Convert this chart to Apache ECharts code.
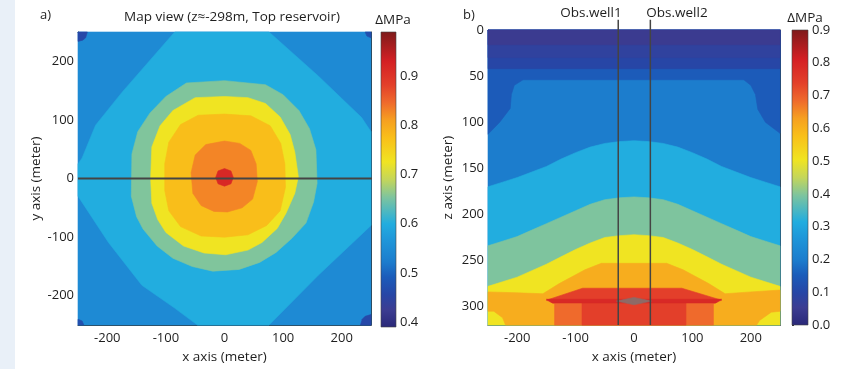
<!DOCTYPE html>
<html><head><meta charset="utf-8">
<script src="https://cdn.jsdelivr.net/npm/echarts@6/dist/echarts.min.js"></script>
<style>html,body{margin:0;padding:0;background:#fff}#c{width:850px;height:369px}</style>
</head><body><div id="c"></div>
<script>
// ---------- DATA ----------
// Panel a: map view, contour bands (x, y in metres), painted outer -> inner
const mapLevels = [0.546, 0.600, 0.655, 0.726, 0.776, 0.828, 0.918, 0.46, 0.46, 0.47, 0.47];
const mapBackground = [[-250,-250],[250,-250],[250,250],[-250,250]];
const mapDiamond = [[-85,250],[76,250],[160,175],[234,104],[250,80],[250,-80],[160,-165],[76,-250],[-46,-250],[-85,-221],[-141,-182],[-198,-109],[-250,-30],[-250,25],[-243,35],[-220,91],[-175,147]];
const mapGreen = [[0,167],[-65,163],[-100,140],[-127,112],[-148,80],[-158,42],[-159,-30],[-150,-65],[-139,-86],[-115,-115],[-88,-136],[-55,-150],[-20,-158],[25,-155],[60,-143],[88,-126],[115,-102],[139,-76],[152,-40],[158,-8],[156,49],[145,85],[127,116],[100,143],[70,160]];
const mapYellow = [[0,140],[-50,138],[-88,116],[-110,90],[-124,54],[-126,0],[-124,-42],[-114,-70],[-100,-92],[-70,-115],[-35,-127],[2,-130],[40,-122],[64,-109],[90,-85],[105,-59],[120,-25],[126,3],[120,45],[112,75],[95,105],[70,128],[40,138]];
const mapGold = [[0,110],[-45,108],[-75,92],[-95,62],[-102,25],[-102,-20],[-95,-55],[-75,-82],[-40,-98],[0,-100],[40,-96],[72,-80],[95,-55],[104,-15],[103,25],[96,60],[78,90],[45,107]];
const mapOrange = [[0,64],[-32,58],[-50,40],[-57,10],[-54,-25],[-40,-46],[-18,-56],[5,-57],[30,-50],[48,-35],[56,-5],[54,25],[45,48],[26,60]];
const mapRed = [[0,17],[-11,13],[-15,2],[-11,-9],[0,-13],[11,-9],[15,2],[11,13]];
const mapCornerTL = [[-250,250],[-234,250],[-237,240],[-242,236],[-250,234]];
const mapCornerTR = [[250,250],[240,250],[243,243],[250,240]];
const mapCornerBL = [[-250,-250],[-240,-250],[-243,-243],[-250,-240]];
const mapCornerBR = [[250,-250],[232,-250],[235,-240],[240,-235],[250,-232]];
const trench = [[-250,0],[253,0]];

// Panel b: vertical section (x, depth z in metres)
const secLevels = [0.200, 0.150, 0.100, 0.080, 0.050, 0.315, 0.396, 0.504, 0.608, 0.684, 0.740, 0.740, 0.790, 0.70];
const secBackground = [[-250,0],[250,0],[250,320],[-250,320]];
const secBand015 = [[-250,0],[250,0],[250,112],[225,100],[212,86],[208,70],[200,60],[188,54],[-190,54],[-205,60],[-210,70],[-212,85],[-230,100],[-250,113]];
const secBand010 = [[-250,0],[250,0],[250,42],[-250,42]];
const secBand008 = [[-250,0],[250,0],[250,30],[-250,30]];
const secBand005 = [[-250,0],[250,0],[250,16],[-250,16]];
const secCyan = [[-250,170],[-225,165],[-200,160],[-175,154],[-150,148],[-125,140],[-100,133],[-75,127],[-50,123],[-25,121],[0,120],[25,121],[50,123],[75,127],[100,133],[125,140],[150,148],[175,154],[200,160],[225,165],[250,170],[250,320],[-250,320]];
const secGreen = [[-250,234],[-225,229],[-200,224],[-175,217],[-150,210],[-125,203],[-100,196],[-75,189],[-50,184],[-25,182],[0,181],[25,182],[50,184],[75,189],[100,196],[125,203],[150,210],[175,217],[200,224],[225,229],[250,234],[250,320],[-250,320]];
const secYellow = [[-250,278],[-225,273],[-200,268],[-175,261],[-150,254],[-125,246],[-100,238],[-75,231],[-50,225],[-25,223],[0,222],[25,223],[50,225],[75,231],[100,238],[125,246],[150,254],[175,261],[200,268],[225,273],[250,278],[250,320],[-250,320]];
const secGold = [[-250,284],[-200,285],[-156,286],[-128,275],[-84,260],[-56,253],[56,253],[84,260],[128,275],[156,286],[200,284],[250,282],[250,305],[235,306],[215,315],[210,320],[-220,320],[-225,312],[-240,305],[-250,305]];
const secOrangeRed = [[-150,293],[150,293],[136,297],[136,320],[-136,320],[-136,297]];
const secRedTop = [[-88,280],[82,280],[150,293],[-150,293]];
const secRedLow = [[-89,296],[89,296],[89,320],[-89,320]];
const secBrim = [[-150,292],[150,292],[140,296],[-140,296]];
const secSource = [[-30,294],[0,290],[30,294],[0,298]];
const well1 = [[-27,-11],[-27,320]];
const well2 = [[28,-11],[28,320]];

const mapTicksX = [-200,-100,0,100,200];
const mapTicksY = [-200,-100,0,100,200];
const secTicksZ = [0,50,100,150,200,250,300];
const cbATicks = [0.4,0.5,0.6,0.7,0.8,0.9];
const cbARange = [0.39, 0.99];
const cbBRange = [0, 0.9];

// ---------- STYLE ----------
const STOPS = [[0.00,'#2a2878'],[0.06,'#3c3d92'],[0.11,'#2746a6'],[0.17,'#1b5cba'],[0.22,'#1c7ccd'],[0.30,'#1f98da'],[0.35,'#22addf'],[0.44,'#7ec49e'],[0.50,'#c4d65a'],[0.56,'#f0e422'],[0.64,'#f9c01a'],[0.70,'#f6a020'],[0.76,'#ef6a2c'],[0.82,'#e3402a'],[0.90,'#d42024'],[1.00,'#7e1b1b']];
function hex(c){return [parseInt(c.slice(1,3),16),parseInt(c.slice(3,5),16),parseInt(c.slice(5,7),16)];}
function cmap(t){
  t=Math.max(0,Math.min(1,t));
  for(let i=1;i<STOPS.length;i++){
    if(t<=STOPS[i][0]){
      const a=STOPS[i-1],b=STOPS[i],f=(t-a[0])/(b[0]-a[0]);
      const ca=hex(a[1]),cb=hex(b[1]);
      return 'rgb('+ca.map((v,k)=>Math.round(v+(cb[k]-v)*f)).join(',')+')';
    }
  }
  return STOPS[STOPS.length-1][1];
}
const FONT='Open Sans';
const TXT='#1e1e1e';
const mapPolys=[mapBackground,mapDiamond,mapGreen,mapYellow,mapGold,mapOrange,mapRed,mapCornerTL,mapCornerBR,mapCornerTR,mapCornerBL];
const secPolys=[secBackground,secBand015,secBand010,secBand008,secBand005,secCyan,secGreen,secYellow,secGold,secOrangeRed,secRedTop,secRedLow,secBrim,secSource];
const secColorsOverride={13:'#8e6a66'};

function polySeries(polys, levels, range, xi, yi, override){
  return {type:'custom',xAxisIndex:xi,yAxisIndex:yi,silent:true,
    data: levels.map((v,i)=>[i,v]),
    encode:{x:-1,y:-1},
    renderItem:(p,api)=>{
      const i=p.dataIndex, pts=polys[i].map(q=>api.coord(q));
      const col=(override&&override[i])||cmap((levels[i]-range[0])/(range[1]-range[0]));
      return {type:'polygon',shape:{points:pts},style:{fill:col,stroke:col,lineWidth:0.6}};
    }};
}
function cbSeries(range, xi, yi){
  return {type:'custom',xAxisIndex:xi,yAxisIndex:yi,silent:true,data:[[0,range[0]]],encode:{x:-1,y:-1},
    renderItem:(p,api)=>{
      const a=api.coord([0,range[1]]),b=api.coord([1,range[0]]);
      return {type:'rect',shape:{x:a[0],y:a[1],width:b[0]-a[0],height:b[1]-a[1]},
        style:{fill:new echarts.graphic.LinearGradient(0,1,0,0,STOPS.map(s=>({offset:s[0],color:s[1]}))),stroke:'#444',lineWidth:0.6}};
    }};
}
const lab={fontFamily:FONT,fontSize:13,color:TXT};
const gridA={left:78,top:32,width:293,height:295};
const cbA={left:381,top:32,width:15,height:295};
const gridB={left:488,top:30,width:292,height:297};
const cbB={left:792,top:30,width:16,height:295};
const frameAxis=(g,pos,extra)=>Object.assign({gridIndex:g,position:pos,type:'value',axisLine:{show:true,onZero:false,lineStyle:{color:'#333',width:1}},axisTick:{show:false},axisLabel:{show:false},splitLine:{show:false}},extra||{});

const option={
  backgroundColor:'#ffffff',
  animation:false,
  grid:[gridA,cbA,gridB,cbB],
  xAxis:[
    {gridIndex:0,type:'value',min:-250,max:250,position:'bottom',
      axisLine:{show:true,onZero:false,lineStyle:{color:'#333'}},
      axisTick:{show:true,inside:true,length:3,customValues:mapTicksX,lineStyle:{color:'#333'}},
      axisLabel:Object.assign({customValues:mapTicksX,margin:7},lab),splitLine:{show:false},
      name:'x axis (meter)',nameLocation:'middle',nameGap:23,nameTextStyle:{fontFamily:FONT,fontSize:13.5,color:TXT}},
    frameAxis(0,'top',{min:-250,max:250}),
    {gridIndex:1,type:'value',min:0,max:1,show:false},
    {gridIndex:2,type:'value',min:-250,max:250,position:'bottom',
      axisLine:{show:true,onZero:false,lineStyle:{color:'#333'}},
      axisTick:{show:true,inside:true,length:3,customValues:mapTicksX,lineStyle:{color:'#333'}},
      axisLabel:Object.assign({customValues:mapTicksX,margin:7},lab),splitLine:{show:false},
      name:'x axis (meter)',nameLocation:'middle',nameGap:23,nameTextStyle:{fontFamily:FONT,fontSize:13.5,color:TXT}},
    frameAxis(2,'top',{min:-250,max:250}),
    {gridIndex:3,type:'value',min:0,max:1,show:false}
  ],
  yAxis:[
    {gridIndex:0,type:'value',min:-250,max:250,position:'left',
      axisLine:{show:true,onZero:false,lineStyle:{color:'#333'}},
      axisTick:{show:true,inside:true,length:3,customValues:mapTicksY,lineStyle:{color:'#333'}},
      axisLabel:Object.assign({customValues:mapTicksY,margin:4},lab),splitLine:{show:false},
      name:'y axis (meter)',nameLocation:'middle',nameGap:33,nameTextStyle:{fontFamily:FONT,fontSize:13.5,color:TXT}},
    frameAxis(0,'right',{min:-250,max:250}),
    {gridIndex:1,type:'value',min:cbARange[0],max:cbARange[1],position:'right',
      axisLine:{show:false},axisTick:{show:true,length:2,customValues:cbATicks,lineStyle:{color:'#333'}},
      axisLabel:Object.assign({customValues:cbATicks,margin:4,formatter:v=>v.toFixed(1)},lab),splitLine:{show:false}},
    {gridIndex:2,type:'value',min:0,max:320,inverse:true,position:'left',
      axisLine:{show:true,onZero:false,lineStyle:{color:'#333'}},
      axisTick:{show:true,inside:true,length:3,customValues:secTicksZ,lineStyle:{color:'#333'}},
      axisLabel:Object.assign({customValues:secTicksZ,margin:4},lab),splitLine:{show:false},
      name:'z axis (meter)',nameLocation:'middle',nameGap:33,nameTextStyle:{fontFamily:FONT,fontSize:13.5,color:TXT}},
    frameAxis(2,'right',{min:0,max:320,inverse:true}),
    {gridIndex:3,type:'value',min:cbBRange[0],max:cbBRange[1],interval:0.1,position:'right',
      axisLine:{show:false},axisTick:{show:true,length:2,lineStyle:{color:'#333'}},
      axisLabel:Object.assign({margin:4,formatter:v=>v.toFixed(1)},lab),splitLine:{show:false}}
  ],
  series:[
    polySeries(mapPolys,mapLevels,cbARange,0,0),
    {type:'line',xAxisIndex:0,yAxisIndex:0,data:trench,symbol:'none',clip:false,silent:true,lineStyle:{color:'#444',width:2},z:5},
    cbSeries(cbARange,2,2),
    polySeries(secPolys,secLevels,cbBRange,3,3,secColorsOverride),
    {type:'line',xAxisIndex:3,yAxisIndex:3,data:well1,symbol:'none',clip:false,silent:true,lineStyle:{color:'#444',width:1.5},z:5},
    {type:'line',xAxisIndex:3,yAxisIndex:3,data:well2,symbol:'none',clip:false,silent:true,lineStyle:{color:'#444',width:1.5},z:5},
    cbSeries(cbBRange,5,5)
  ],
  graphic:[
    {type:'rect',left:0,top:0,shape:{width:15,height:369},style:{fill:'#e9f0f8'},silent:true,z:-10},
    {type:'text',x:40,y:15,style:{text:'a)',font:'13px "Open Sans"',fill:TXT,verticalAlign:'middle'}},
    {type:'text',x:232,y:17,style:{text:'Map view (z≈-298m, Top reservoir)',font:'13.5px "Open Sans"',fill:TXT,align:'center',verticalAlign:'middle'}},
    {type:'text',x:393,y:20,style:{text:'ΔMPa',font:'13.5px "Open Sans"',fill:TXT,align:'center',verticalAlign:'middle'}},
    {type:'text',x:343,y:168,style:{text:'Trench',font:'13.5px "Open Sans"',fill:TXT,align:'center',verticalAlign:'middle'}},
    {type:'text',x:463,y:15,style:{text:'b)',font:'13px "Open Sans"',fill:TXT,verticalAlign:'middle'}},
    {type:'text',x:591,y:13,style:{text:'Obs.well1',font:'13.5px "Open Sans"',fill:TXT,align:'center',verticalAlign:'middle'}},
    {type:'text',x:677,y:13,style:{text:'Obs.well2',font:'13.5px "Open Sans"',fill:TXT,align:'center',verticalAlign:'middle'}},
    {type:'text',x:805,y:18,style:{text:'ΔMPa',font:'13.5px "Open Sans"',fill:TXT,align:'center',verticalAlign:'middle'}}
  ]
};
echarts.init(document.getElementById('c'),null,{renderer:'canvas'}).setOption(option);
</script></body></html>
